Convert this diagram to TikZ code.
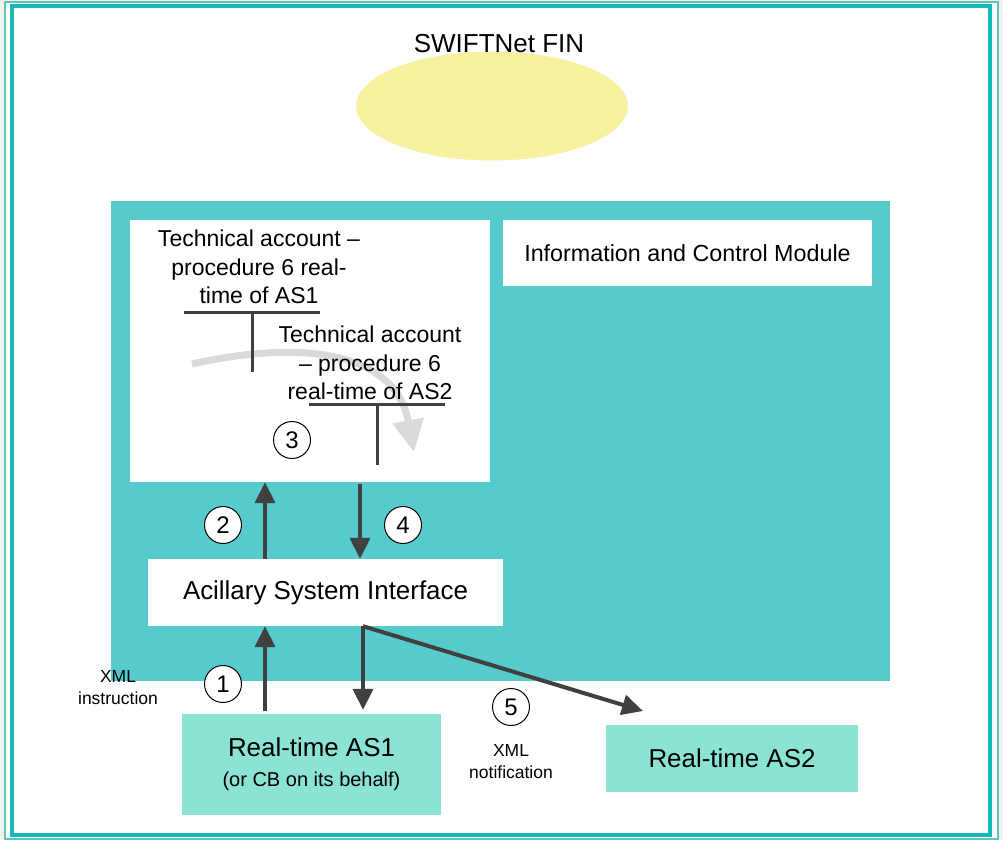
\documentclass[tikz,border=0pt]{standalone}
\usepackage{fontspec}
\setmainfont{Liberation Sans}
\usetikzlibrary{arrows.meta,shapes.geometric}
\definecolor{bggray}{HTML}{F2F2ED}
\definecolor{thinteal}{HTML}{5CC5C0}
\definecolor{frameteal}{HTML}{14B8B8}
\definecolor{modteal}{HTML}{55CBCE}
\definecolor{mint}{HTML}{8AE3D3}
\definecolor{paleyellow}{HTML}{F6F2A0}
\definecolor{arrgray}{HTML}{404040}
\definecolor{curvegray}{HTML}{D9D9D9}
\tikzset{
  whitebox/.style={rectangle, fill=white, inner sep=0pt, align=center},
  mintbox/.style={rectangle, fill=mint, inner sep=0pt, align=center},
  numc/.style={circle, draw=black, line width=1pt, fill=white, minimum size=37pt, inner sep=0pt, font=\fontsize{24}{28}\selectfont},
  lbl/.style={inner sep=0pt, align=center},
  arr/.style={draw=arrgray, line width=4pt, -{Triangle[length=21pt,width=20pt]}},
  tline/.style={draw=arrgray, line width=3pt},
  curvearr/.style={draw=curvegray, line width=7pt, -{Triangle[length=32pt,width=30pt]}}
}
\begin{document}
\begin{tikzpicture}[x=1pt,y=-1pt]
\useasboundingbox (0,0) rectangle (1003,840);
\fill[bggray] (0,0) rectangle (1003,840);
\draw[thinteal, line width=2pt, fill=white] (5,2) rectangle (997.5,838.5);
\draw[frameteal, line width=4pt] (12,6.5) rectangle (990,835);
% cloud
\node[ellipse, fill=paleyellow, minimum width=272pt, minimum height=109pt, inner sep=0pt] (fin) at (492,106) {};
\node[lbl, font=\fontsize{26}{30}\selectfont] (finl) at (499,44) {SWIFTNet FIN};
% module area
\node[rectangle, fill=modteal, minimum width=779pt, minimum height=480pt, inner sep=0pt] (mod) at (500.5,440.5) {};
\node[whitebox, minimum width=360pt, minimum height=262pt] (tbox) at (310,351) {};
\node[whitebox, minimum width=369pt, minimum height=66pt, font=\fontsize{23.3}{28}\selectfont] (icm) at (687.5,253) {Information and Control Module};
\node[whitebox, minimum width=355pt, minimum height=67pt, font=\fontsize{25.9}{30}\selectfont] (asi) at (325.5,592.5) {Acillary System Interface};
% participants
\node[mintbox, minimum width=259pt, minimum height=101pt, font=\fontsize{25.9}{30}\selectfont] (as1) at (311.5,764.5)
  {Real-time AS1\\{\fontsize{20}{24}\selectfont (or CB on its behalf)}};
\node[mintbox, minimum width=252pt, minimum height=67pt, font=\fontsize{25.9}{30}\selectfont] (as2) at (732,758.5) {Real-time AS2};
% curved transfer arrow
\coordinate (cs) at (192,364);
\coordinate (ce) at (414,452);
\draw[curvearr] (cs) .. controls (300,340) and (395,350) .. (ce);
% T accounts
\coordinate (t1l) at (184,312); \coordinate (t1r) at (320,312);
\coordinate (t1t) at (252,312); \coordinate (t1b) at (252,372);
\draw[tline] (t1l) -- (t1r);
\draw[tline] (t1t) -- (t1b);
\coordinate (t2l) at (309,404); \coordinate (t2r) at (445,404);
\coordinate (t2t) at (377,404); \coordinate (t2b) at (377,465);
\draw[tline] (t2l) -- (t2r);
\draw[tline] (t2t) -- (t2b);
\node[lbl, font=\fontsize{23}{28.5}\selectfont] (t1lbl) at (259,267) {Technical account –\\procedure 6 real-\\time of AS1};
\node[lbl, font=\fontsize{23}{28.5}\selectfont] (t2lbl) at (370,363) {Technical account\\– procedure 6\\real-time of AS2};
% arrows
\coordinate (a1) at (265,0);
\coordinate (a4) at (360,0);
\coordinate (a5) at (363,0);
\coordinate (tip5) at (643,711);
\draw[arr, shorten <=3pt] (as1.north -| a1) -- (asi.south -| a1);
\draw[arr] (asi.north -| a1) -- (tbox.south -| a1);
\draw[arr, shorten <=2pt] (tbox.south -| a4) -- (asi.north -| a4);
\draw[arr, shorten >=4pt] (asi.south -| a5) -- (as1.north -| a5);
\draw[arr] (asi.south -| a5) -- (tip5);
% numbers
\node[numc] (n1) at (223,684) {1};
\node[numc] (n2) at (223,525) {2};
\node[numc] (n3) at (292,440) {3};
\node[numc] (n4) at (403,525) {4};
\node[numc] (n5) at (511,707) {5};
% XML labels
\node[lbl, font=\fontsize{17.5}{22}\selectfont] (xi) at (118,688) {XML\\instruction};
\node[lbl, font=\fontsize{17.5}{22}\selectfont] (xn) at (511,762) {XML\\notification};
\end{tikzpicture}
\end{document}
